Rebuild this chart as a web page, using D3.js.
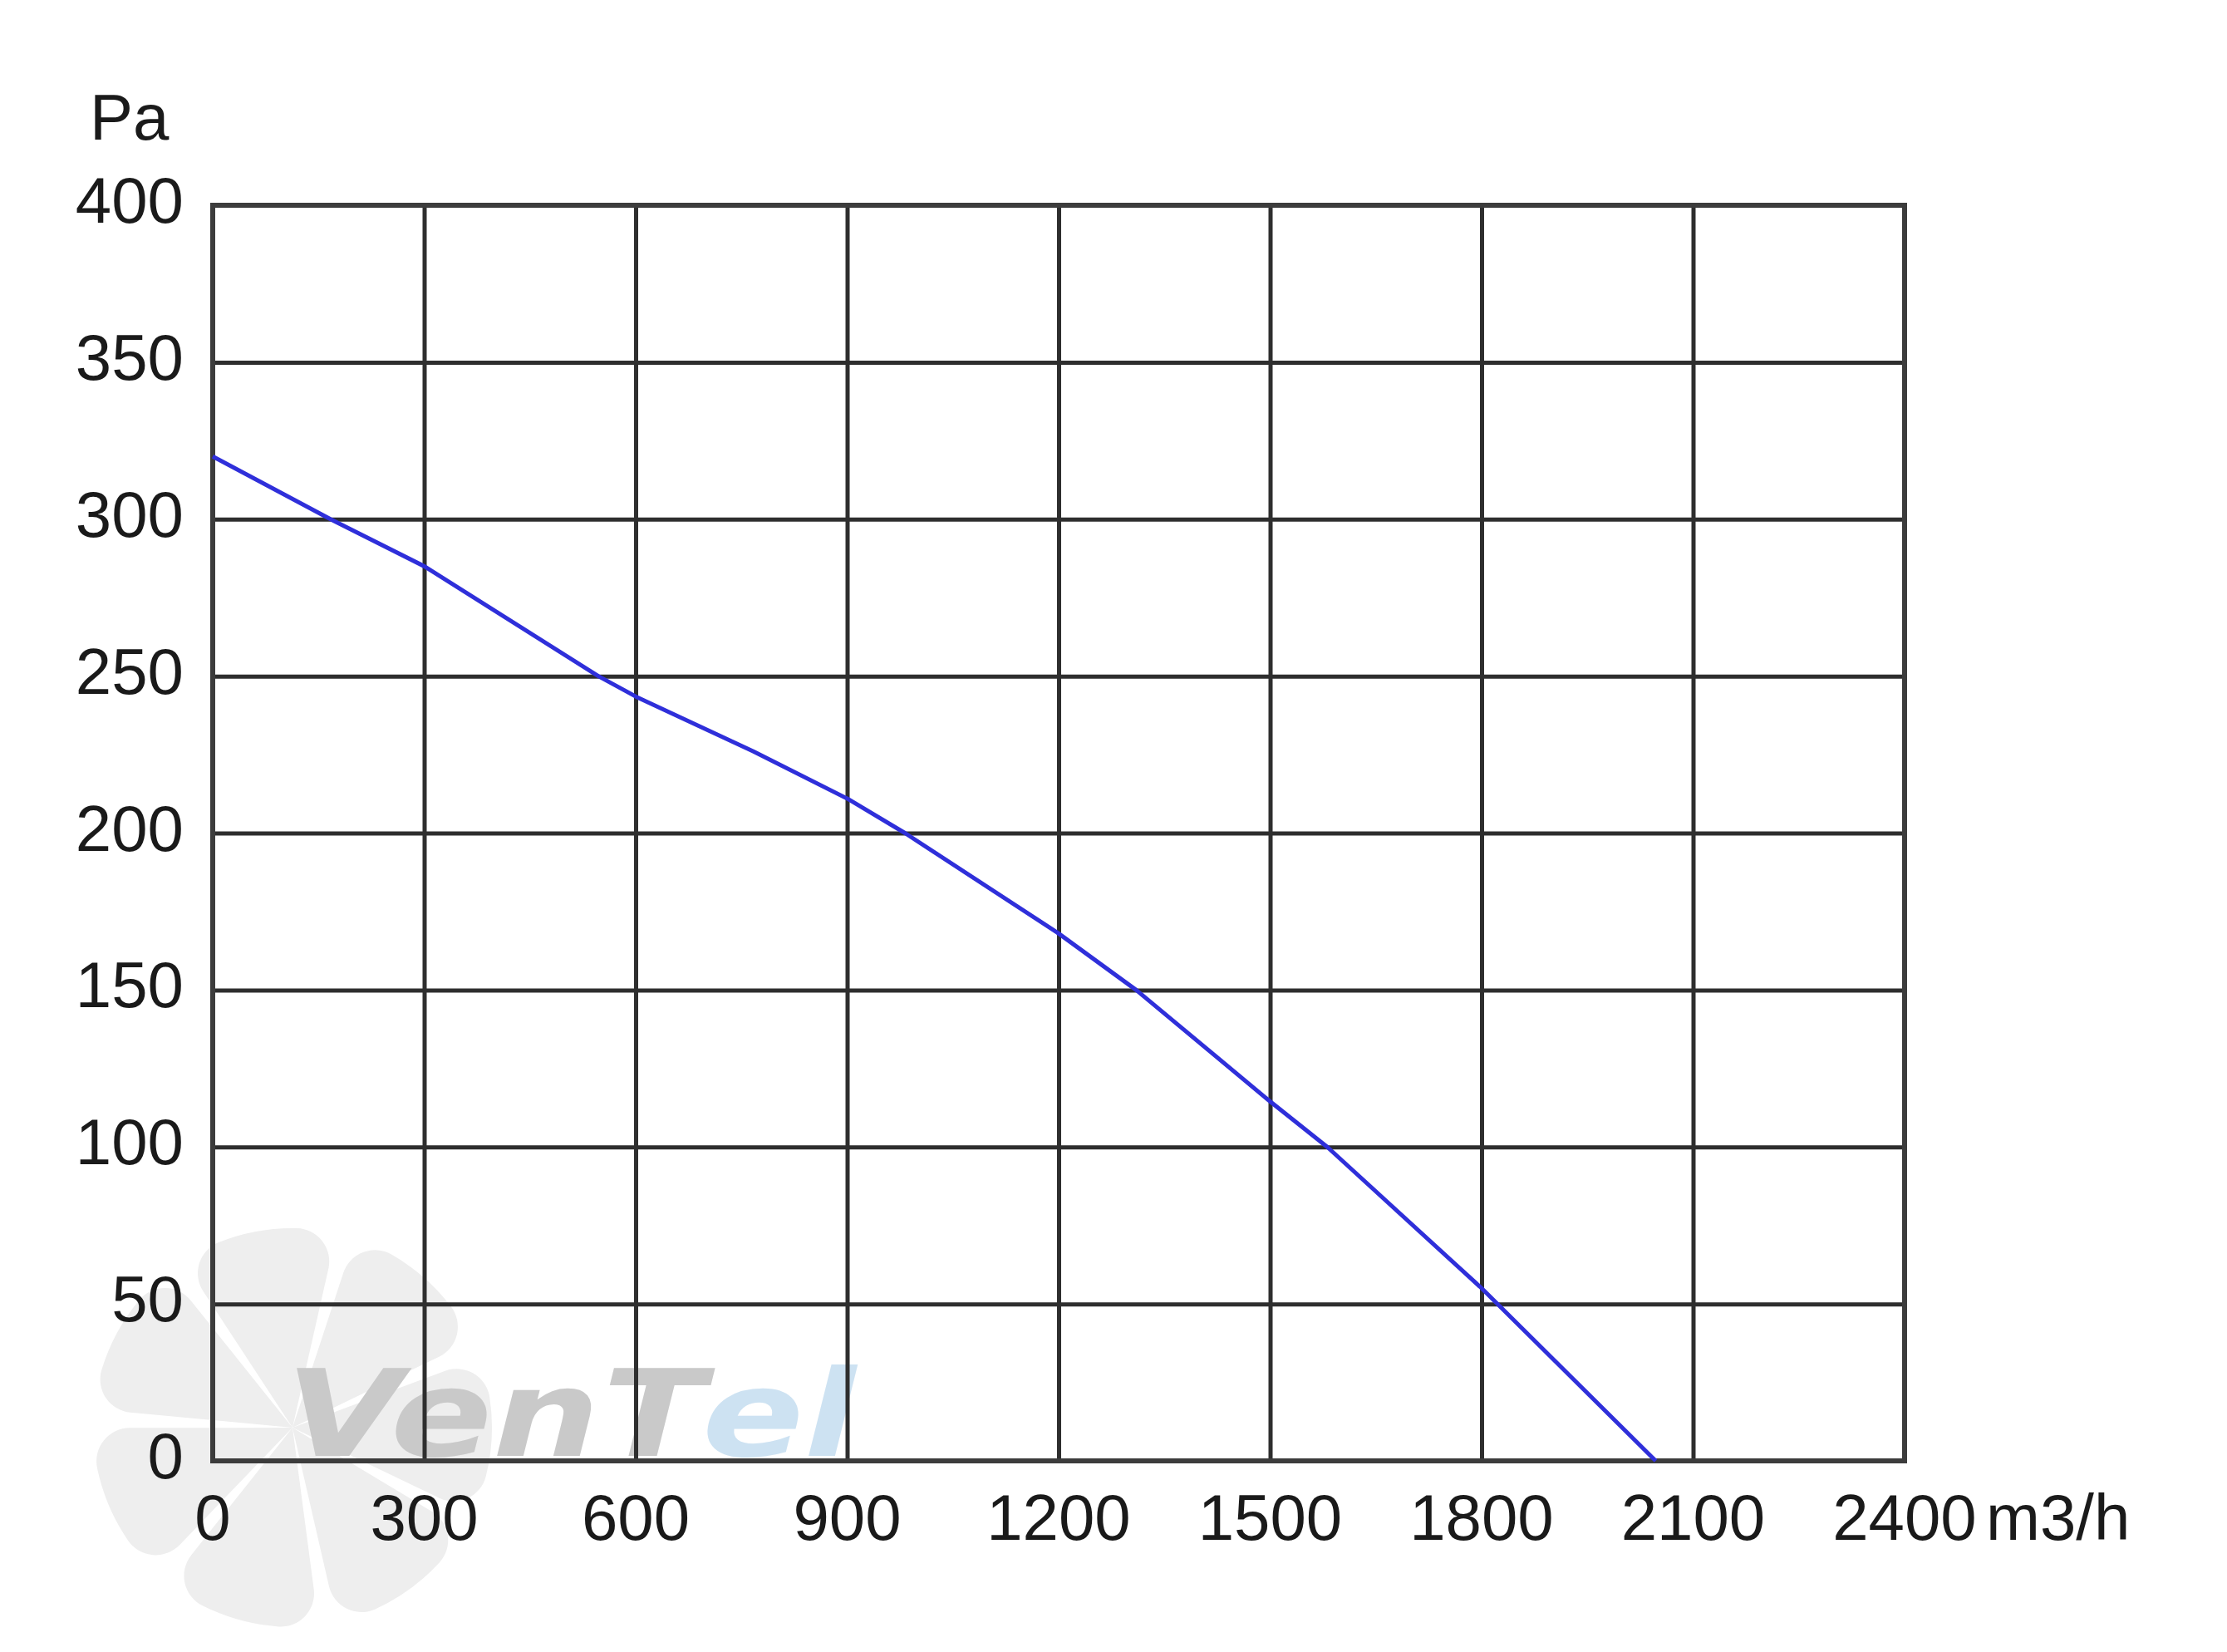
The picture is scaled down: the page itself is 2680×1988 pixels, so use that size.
<!DOCTYPE html>
<html>
<head>
<meta charset="utf-8">
<script src="https://cdn.jsdelivr.net/npm/d3@7"></script>
<style>
  html, body { margin: 0; padding: 0; background: #fff; }
  svg { display: block; }
</style>
</head>
<body>
<script>
// ---- data ----
const flowTicks = [0, 300, 600, 900, 1200, 1500, 1800, 2100, 2400];
const pressureTicks = [0, 50, 100, 150, 200, 250, 300, 350, 400];
const flow =     [0,   167, 300, 420, 547, 600,   767,   900, 982, 1200, 1310, 1500,  1581, 1800, 2047];
const pressure = [320, 300, 285, 268, 250, 243.5, 226,   211, 200, 168,  150,  114.5, 100,  55,   0];
const xUnit = "m3/h";
const yUnit = "Pa";
const logoGray = "VenT";
const logoBlue = "el";

// ---- layout ----
const W = 2680, H = 1988;
const L = 256, R = 2292, T = 247, B = 1758;
const font = "'Liberation Sans', Arial, sans-serif";

const svg = d3.select("body").append("svg").attr("width", W).attr("height", H);

const x = d3.scaleLinear().domain([0, 2400]).range([L, R]);
const y = d3.scaleLinear().domain([0, 400]).range([B, T]);

// ---- watermark ----
const wm = svg.append("g").attr("class", "watermark");
const cx = 352, cy = 1718;
const blades = d3.range(7);
const arc = d3.arc().innerRadius(0).outerRadius(240).padAngle(0.035).cornerRadius(40);
const bladeAngle = 2 * Math.PI / 7;
wm.selectAll("path.blade").data(blades).join("path")
  .attr("class", "blade")
  .attr("transform", `translate(${cx},${cy})`)
  .attr("d", i => arc({startAngle: i * bladeAngle + 0.3, endAngle: (i + 1) * bladeAngle + 0.3 - 0.06}))
  .attr("fill", "#eeeeee");
const logo = wm.append("text")
  .attr("transform", "translate(330,1752) skewX(-14)")
  .attr("font-family", "'DejaVu Sans', sans-serif")
  .attr("font-weight", 900)
  .attr("font-size", 145)
  .attr("textLength", 690)
  .attr("lengthAdjust", "spacingAndGlyphs");
logo.append("tspan").attr("fill", "#c9c9c9").text(logoGray);
logo.append("tspan").attr("fill", "#cde2f2").text(logoBlue);

// ---- grid ----
const gridColor = "#2e2e2e";
const grid = svg.append("g");
grid.append("g")
  .attr("transform", `translate(${L},0)`)
  .call(d3.axisLeft(y).tickValues(pressureTicks).tickSize(-(R - L)).tickFormat(""))
  .call(g => g.select(".domain").remove())
  .call(g => g.selectAll("line").attr("stroke", gridColor).attr("stroke-width", 5));
grid.append("g")
  .attr("transform", `translate(0,${B})`)
  .call(d3.axisBottom(x).tickValues(flowTicks).tickSize(-(B - T)).tickFormat(""))
  .call(g => g.select(".domain").remove())
  .call(g => g.selectAll("line").attr("stroke", gridColor).attr("stroke-width", 5));
svg.append("rect")
  .attr("x", L).attr("y", T).attr("width", R - L).attr("height", B - T)
  .attr("fill", "none").attr("stroke", "#3c3c3c").attr("stroke-width", 6);

// ---- tick labels ----
svg.append("g").selectAll("text").data(pressureTicks).join("text")
  .attr("x", 221).attr("y", d => y(d) + 21)
  .attr("text-anchor", "end")
  .attr("font-family", font).attr("font-size", 78).attr("fill", "#1a1a1a")
  .text(d => d);
svg.append("g").selectAll("text").data(flowTicks).join("text")
  .attr("x", d => x(d)).attr("y", 1853)
  .attr("text-anchor", "middle")
  .attr("font-family", font).attr("font-size", 78).attr("fill", "#1a1a1a")
  .text(d => d);
svg.append("text").attr("x", 2390).attr("y", 1853)
  .attr("font-family", font).attr("font-size", 78).attr("fill", "#1a1a1a").text(xUnit);
svg.append("text").attr("x", 108).attr("y", 168)
  .attr("font-family", font).attr("font-size", 78).attr("fill", "#1a1a1a").text(yUnit);

// ---- curve ----
const pts = flow.map((f, i) => [f, pressure[i]]);
svg.append("path")
  .datum(pts)
  .attr("d", d3.line().x(d => x(d[0])).y(d => y(d[1])).curve(d3.curveLinear))
  .attr("fill", "none")
  .attr("stroke", "#2f2fda")
  .attr("stroke-width", 5)
  .attr("stroke-linejoin", "round");
</script>
</body>
</html>
